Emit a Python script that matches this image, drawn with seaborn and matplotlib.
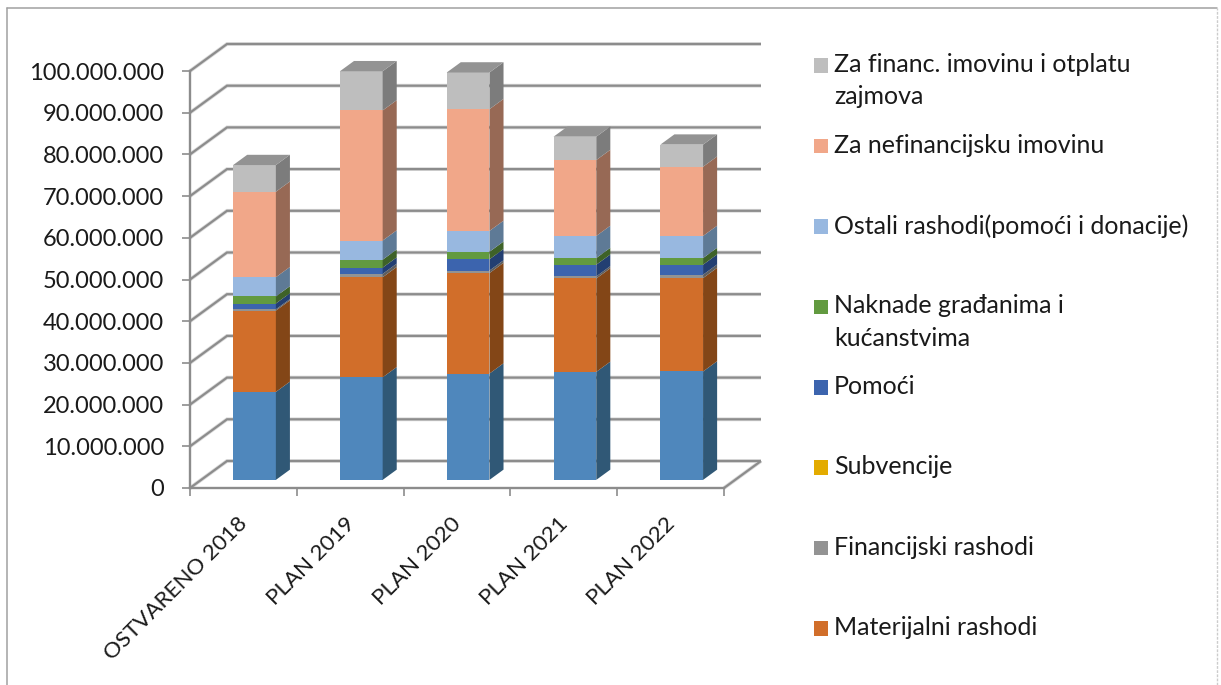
import matplotlib
matplotlib.use('Agg')
import matplotlib.pyplot as plt
import seaborn as sns
import numpy as np
from matplotlib.patches import Polygon, Rectangle
from matplotlib.lines import Line2D
from matplotlib.transforms import Affine2D, IdentityTransform

# kategorije i serije (kn), procitano sa slike
godine = ['OSTVARENO 2018', 'PLAN 2019', 'PLAN 2020', 'PLAN 2021', 'PLAN 2022']
zaposleni = [21100000, 24600000, 25500000, 25900000, 26000000]
materijalni = [19500000, 24000000, 24100000, 22400000, 22400000]
financijski = [300000, 800000, 600000, 500000, 800000]
subvencije = [0, 0, 0, 0, 0]
pomoci = [1400000, 1500000, 2700000, 2800000, 2400000]
naknade = [1700000, 1900000, 1800000, 1600000, 1600000]
ostali = [4600000, 4600000, 5000000, 5300000, 5300000]
nefinancijska = [20500000, 31200000, 29200000, 18200000, 16600000]
financijska = [6400000, 9400000, 8800000, 5600000, 5300000]

serije = [zaposleni, materijalni, financijski, subvencije, pomoci, naknade, ostali, nefinancijska, financijska]
boje = ['#4F87BC', '#D16E2A', '#939393', '#E3AB00', '#3C64AE', '#629A40', '#98B8E0', '#F1A789', '#BEBEBE']
boje_bok = ['#305876', '#834617', '#5E5E5E', '#8A6800', '#233F72', '#3E6228', '#5E7A96', '#976955', '#7C7C7C']
boja_vrh = '#939393'

legenda = ['Za financ. imovinu i otplatu\nzajmova', 'Za nefinancijsku imovinu',
           'Ostali rashodi(pomoći i donacije)', 'Naknade građanima i\nkućanstvima',
           'Pomoći', 'Subvencije', 'Financijski rashodi', 'Materijalni rashodi']
legenda_boje = ['#BEBEBE', '#F1A789', '#98B8E0', '#629A40', '#3C64AE', '#E3AB00', '#939393', '#D16E2A']

W, H = 1221, 685
sns.set_theme(style='white')
plt.rcParams['font.family'] = ['Lato', 'DejaVu Sans']

fig = plt.figure(figsize=(W / 100, H / 100), dpi=100)
ax = fig.add_axes([190 / W, (H - 488) / H, 534 / W, 417 / H])
ax.patch.set_alpha(0)

siva = '#8C8C8C'
tekst_boja = '#1A1A1A'
DX, DY = 37, 27          # pomak dubine u pikselima
D_PRED, D_ZAD = 0.3, 0.68  # prednja i straznja strana stupca
SIRINA = 0.40

cum = np.cumsum(np.array(serije, dtype=float), axis=0)

# seaborn crta ukupne visine od najvece prema manjoj, tako nastaje slaganje
pomak = Affine2D().translate(DX * D_PRED, DY * D_PRED)
for i in range(len(serije) - 1, -1, -1):
    n = len(ax.patches)
    sns.barplot(x=godine, y=cum[i], color=boje[i], saturation=1, width=SIRINA, ax=ax, zorder=3)
    for p in ax.patches[n:]:
        p.set_linewidth(0)
        p.set_clip_on(False)
        p.set_transform(ax.transData + pomak)

ax.set_xlim(-0.5, 4.5)
ax.set_ylim(0, 100000000)


def proj(x, v, d):
    px = ax.transData.transform((x, v))
    return (px[0] + DX * d, px[1] + DY * d)


def crta(tocke, lw=2.2, c=siva, z=1):
    xs = [t[0] for t in tocke]
    ys = [t[1] for t in tocke]
    # blijedi rub ispod linije
    ax.add_line(Line2D(xs, ys, color='#DADADA', lw=(lw + 1.6) * 0.72, transform=IdentityTransform(), clip_on=False,
                       zorder=z - 0.5, solid_capstyle='butt', solid_joinstyle='miter'))
    ax.add_line(Line2D(xs, ys, color=c, lw=lw * 0.72, transform=IdentityTransform(), clip_on=False,
                       zorder=z, solid_capstyle='butt', solid_joinstyle='miter'))


# zidovi: mreza
y_ticks = np.arange(0, 100000001, 10000000)
for v in y_ticks:
    crta([proj(-0.5, v, 0), proj(-0.5, v, 1), proj(4.5, v, 1)])
crta([proj(4.5, 0, 0), proj(4.5, 0, 1)])

# bokovi i vrh stupaca
for k in range(len(godine)):
    xr = k + SIRINA / 2
    xl = k - SIRINA / 2
    for i in range(len(serije)):
        dno = cum[i - 1][k] if i > 0 else 0
        vrh = cum[i][k]
        if vrh - dno <= 0:
            continue
        ax.add_patch(Polygon([proj(xr, dno, D_PRED), proj(xr, dno, D_ZAD), proj(xr, vrh, D_ZAD), proj(xr, vrh, D_PRED)],
                             closed=True, fc=boje_bok[i], lw=0, transform=IdentityTransform(), clip_on=False, zorder=4))
    t = cum[-1][k]
    ax.add_patch(Polygon([proj(xl, t, D_PRED), proj(xl, t, D_ZAD), proj(xr, t, D_ZAD), proj(xr, t, D_PRED)],
                         closed=True, fc=boja_vrh, lw=0, transform=IdentityTransform(), clip_on=False, zorder=4))

# osi
sns.despine(ax=ax, top=True, right=True)
for s in ['left', 'bottom']:
    ax.spines[s].set_color(siva)
    ax.spines[s].set_linewidth(1.7)
    ax.spines[s].set_zorder(5)
ax.grid(False)
ax.set_yticks(y_ticks)
ax.set_yticklabels([f'{int(v):,}'.replace(',', '.') for v in y_ticks], fontsize=17, color=tekst_boja)
ax.tick_params(axis='y', length=5.8, width=1.2, color=siva, pad=13, left=True)
ax.set_xticks(range(len(godine)))
ax.set_xticklabels(godine, fontsize=16.1, color=tekst_boja, rotation=45, ha='right', rotation_mode='anchor')
ax.set_xticks(np.arange(-0.5, 5), minor=True)
ax.tick_params(axis='x', which='major', length=0, pad=18.5, bottom=False)
ax.tick_params(axis='x', which='minor', length=6, width=1.2, color=siva, bottom=True)
pomak_txt = Affine2D().translate(-6, 0)
for l in ax.get_xticklabels():
    l.set_transform(l.get_transform() + pomak_txt)
ax.set_xlabel('')
ax.set_ylabel('')

# legenda rucno, kvadrati i tekst kao na slici
for i, (tekst, boja) in enumerate(zip(legenda, legenda_boje)):
    yc = 65.7 + i * 80.4
    fig.add_artist(Rectangle((814 / W, 1 - (yc + 7.2) / H), 14 / W, 14.5 / H, fc=boja, lw=0,
                             transform=fig.transFigure))
    fig.text(834 / W, 1 - (yc - 12.5) / H, tekst, fontsize=18, color=tekst_boja, va='top', ha='left', linespacing=1.48)

# okvir
fig.add_artist(Line2D([7.5 / W, 7.5 / W], [0, 1 - 7.5 / H], color='#A0A0A0', lw=1.1, transform=fig.transFigure))
fig.add_artist(Line2D([7.5 / W, 1216.5 / W], [1 - 7.5 / H, 1 - 7.5 / H], color='#A0A0A0', lw=1.1, transform=fig.transFigure))
fig.add_artist(Line2D([1216.5 / W, 1216.5 / W], [0, 1 - 7.5 / H], color='#CCCCCC', lw=1, ls=(0, (2, 1)), transform=fig.transFigure))

fig.savefig('out.png', dpi=100)
